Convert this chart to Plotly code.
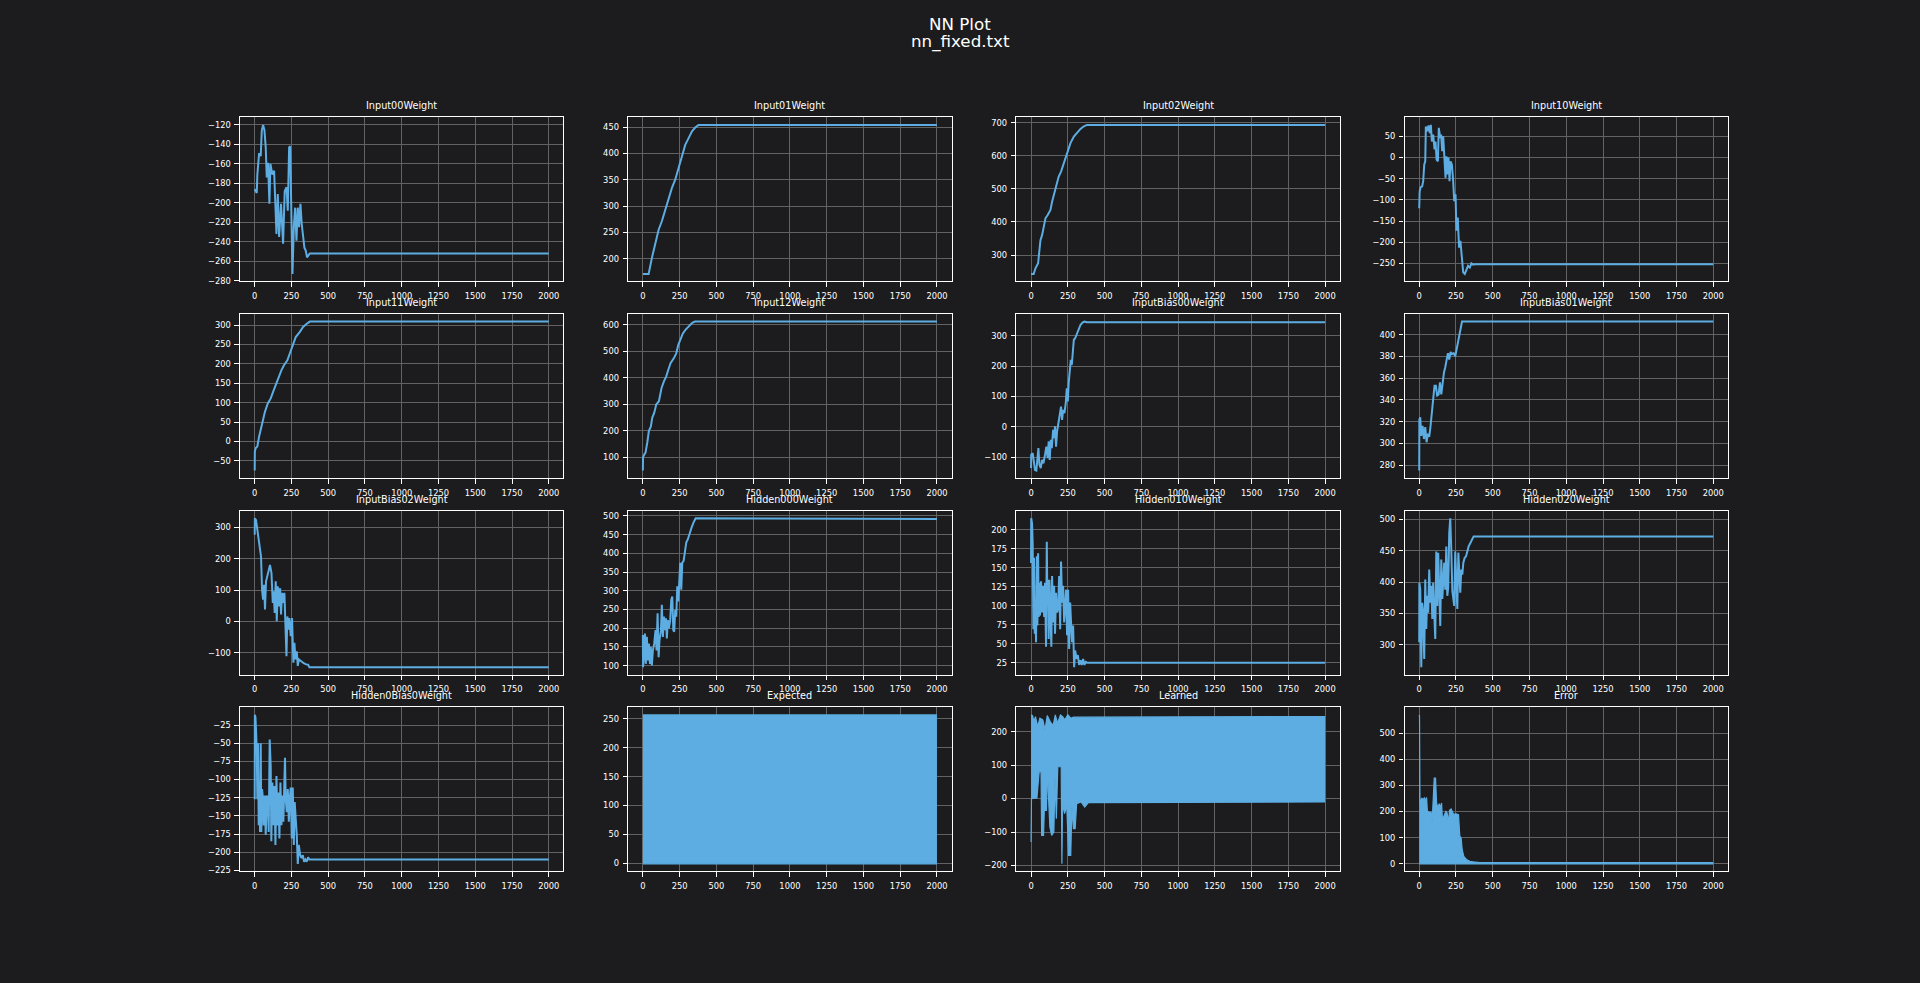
import plotly.graph_objects as go

# ---------------- data ----------------
titles = ["Input00Weight", "Input01Weight", "Input02Weight", "Input10Weight",
          "Input11Weight", "Input12Weight", "InputBias00Weight", "InputBias01Weight",
          "InputBias02Weight", "Hidden000Weight", "Hidden010Weight", "Hidden020Weight",
          "Hidden0Bias0Weight", "Expected", "Learned", "Error"]

x_ticks = [0, 250, 500, 750, 1000, 1250, 1500, 1750, 2000]

input00_x = [0, 14, 18, 30, 41, 48, 57, 66, 75, 82, 91, 100, 107, 120, 132, 138, 148, 157, 166, 179,
             193, 204, 216, 225, 234, 241, 247, 257, 266, 275, 284, 293, 302, 311, 320, 329, 338, 347, 356, 365,
             375, 2000]
input00_y = [-186, -190, -171, -149, -152, -126, -120, -125, -143, -174, -159, -201, -160, -171, -167, -191,
             -232, -191, -235, -201, -242, -188, -184, -208, -143, -142, -201, -273, -225, -205, -239, -205,
             -225, -201, -222, -232, -246, -249, -256, -254, -252, -252]

input01_x = [0, 39, 61, 84, 107, 129, 152, 175, 197, 220, 243, 266, 288, 311, 334, 356, 379, 2000]
input01_y = [171, 171, 201, 227, 255, 271, 293, 315, 334, 350, 372, 394, 416, 429, 442, 449, 454, 454]

input02_x = [0, 18, 30, 48, 57, 64, 75, 86, 98, 113, 132, 143, 159, 173, 188, 204, 218, 234, 250, 268,
             291, 313, 336, 359, 381, 2000]
input02_y = [243, 243, 260, 275, 315, 345, 360, 386, 411, 421, 436, 461, 491, 514, 537, 552, 572, 597, 617,
             638, 658, 670, 681, 689, 693, 693]

input10_x = [0, 3, 10, 20, 27, 34, 41, 45, 54, 63, 72, 79, 86, 95, 104, 111, 118, 127, 133, 143,
             149, 156, 163, 172, 179, 185, 192, 199, 206, 213, 222, 231, 238, 247, 253, 262, 271, 280, 290, 299,
             310, 321, 332, 344, 355, 366, 378, 2000]
input10_y = [-120, -80, -70, -68, -56, -17, -9, 73, 62, 76, 58, 77, 38, 54, 19, 38, -5, -9, 70, 46,
             54, 15, 50, -9, -48, 3, -40, 0, -56, -9, -17, -56, -103, -87, -173, -142, -213, -197, -236, -271,
             -275, -267, -256, -260, -250, -253, -252, -252]

input11_x = [0, 1, 7, 18, 30, 41, 52, 70, 89, 109, 125, 143, 161, 182, 200, 222, 238, 257, 279, 306,
             329, 352, 375, 2000]
input11_y = [-75, -26, -17, -13, 13, 30, 51, 77, 98, 111, 128, 145, 167, 184, 197, 209, 226, 248, 269, 282,
             295, 303, 309, 309]

input12_x = [0, 1, 7, 18, 30, 41, 54, 64, 77, 91, 109, 118, 127, 143, 159, 173, 188, 211, 227, 241,
             257, 272, 291, 313, 336, 354, 2000]
input12_y = [49, 99, 107, 117, 155, 199, 215, 249, 267, 299, 311, 342, 361, 386, 405, 430, 455, 474, 492, 524,
             549, 567, 582, 595, 607, 612, 612]

inputbias00_x = [0, 1, 11, 18, 27, 36, 43, 50, 57, 66, 75, 84, 95, 104, 113, 120, 127, 134, 141, 150,
                 157, 163, 170, 177, 186, 195, 204, 211, 218, 227, 236, 243, 250, 256, 263, 270, 277, 284, 291, 300,
                 309, 318, 327, 336, 350, 363, 379, 2000]
inputbias00_y = [-136, -92, -87, -120, -142, -144, -103, -70, -125, -136, -109, -120, -92, -65, -103, -48,
                 -109, -43, -70, -10, -37, 2, -65, -15, 12, 34, 67, 23, 56, 45, 78, 127, 84, 144, 188, 221,
                 204, 265, 287, 292, 303, 314, 325, 336, 344, 347, 345, 345]

inputbias01_x = [0, 1, 7, 14, 23, 32, 41, 50, 59, 68, 77, 86, 95, 104, 113, 122, 132, 141, 150, 159,
                 168, 177, 186, 195, 204, 213, 222, 234, 245, 257, 268, 279, 291, 2000]
inputbias01_y = [275, 322, 324, 307, 316, 304, 315, 301, 309, 306, 316, 328, 344, 353, 353, 344, 345, 356,
                 345, 356, 365, 370, 377, 383, 377, 384, 382, 383, 380, 389, 397, 402, 412, 412]

inputbias02_x = [0, 1, 9, 16, 23, 30, 36, 43, 50, 57, 64, 70, 77, 86, 95, 104, 114, 123, 129, 136,
                 143, 150, 157, 166, 173, 179, 186, 195, 202, 209, 216, 222, 229, 236, 245, 254, 263, 270, 277,
                 286, 293, 300, 311, 322, 336, 350, 363, 372, 2000]
inputbias02_y = [276, 329, 323, 297, 265, 251, 223, 207, 101, 69, 117, 38, 128, 149, 170, 180, 154, 59, 96,
                 27, 128, 1, 112, 48, 106, 22, 91, 59, 91, 16, -111, 16, -26, 11, -47, 11, -132, -68, -121,
                 -95, -142, -121, -126, -130, -134, -137, -138, -146, -146]

hidden000_x = [0, 1, 5, 14, 20, 27, 34, 41, 48, 54, 61, 68, 77, 86, 93, 100, 107, 113, 123, 129,
               136, 143, 150, 157, 163, 170, 177, 186, 193, 200, 207, 213, 220, 227, 234, 241, 247, 254, 261,
               268, 277, 286, 295, 306, 318, 331, 345, 359, 2000]
hidden000_y = [182, 96, 114, 186, 105, 177, 114, 159, 105, 150, 101, 141, 159, 195, 141, 240, 123, 168, 195,
               263, 177, 231, 195, 227, 173, 222, 200, 222, 276, 285, 195, 191, 249, 231, 312, 272, 308, 375,
               303, 375, 380, 406, 429, 438, 456, 469, 483, 494, 492]

hidden010_x = [0, 1, 7, 11, 16, 20, 25, 30, 34, 39, 43, 48, 52, 57, 61, 68, 75, 82, 89, 95,
               102, 107, 111, 116, 120, 125, 132, 138, 143, 150, 157, 163, 170, 177, 184, 191, 198, 204, 211,
               218, 225, 232, 238, 245, 252, 259, 266, 272, 279, 286, 293, 300, 309, 318, 327, 336, 345, 354,
               363, 372, 381, 2000]
hidden010_y = [156, 215, 208, 182, 69, 163, 63, 87, 52, 165, 74, 169, 85, 130, 87, 132, 91, 126, 85, 130,
               46, 184, 104, 134, 56, 134, 91, 46, 139, 78, 126, 63, 117, 91, 95, 139, 69, 158, 104, 126,
               78, 104, 121, 61, 121, 43, 104, 78, 52, 74, 19, 41, 30, 35, 22, 28, 22, 30, 22, 26, 25, 25]

hidden020_x = [0, 1, 7, 14, 20, 27, 34, 41, 48, 54, 61, 68, 75, 82, 89, 95, 102, 109, 116, 123,
               129, 136, 143, 150, 157, 163, 170, 177, 184, 191, 197, 204, 211, 218, 225, 232, 238, 245, 252,
               259, 266, 272, 279, 286, 293, 300, 309, 318, 327, 336, 347, 359, 370, 2000]
hidden020_y = [304, 399, 388, 264, 367, 351, 277, 404, 325, 378, 351, 420, 367, 394, 341, 399, 351, 309, 449,
               362, 447, 394, 330, 436, 373, 399, 431, 388, 457, 378, 391, 478, 502, 452, 386, 373, 362, 449,
               404, 357, 447, 420, 383, 420, 412, 431, 439, 441, 452, 457, 462, 467, 473, 473]

hidden0bias0_x = [0, 1, 5, 9, 14, 18, 23, 27, 32, 36, 41, 45, 50, 54, 61, 68, 75, 82, 89, 95,
                  102, 109, 113, 120, 127, 134, 141, 148, 154, 161, 168, 175, 182, 188, 195, 202, 206, 211, 218,
                  225, 232, 238, 245, 252, 259, 266, 272, 279, 286, 293, 300, 309, 318, 327, 336, 345, 354, 363,
                  372, 2000]
hidden0bias0_y = [-127, -11, -14, -32, -59, -127, -50, -163, -104, -172, -50, -172, -113, -122, -163, -122,
                  -176, -122, -127, -172, -45, -82, -185, -104, -163, -109, -190, -95, -163, -118, -181, -104,
                  -163, -122, -158, -86, -70, -127, -145, -113, -158, -127, -111, -181, -111, -190, -131, -154,
                  -176, -216, -190, -204, -208, -204, -213, -210, -213, -207, -210, -210]

# dense oscillating series, given by their upper / lower envelopes
expected_x = [0, 2000]
expected_lo = [-1, -1]
expected_hi = [257, 257]

learned_hi_x = [0, 10, 20, 30, 45, 60, 80, 95, 110, 130, 150, 165, 180, 200, 215, 230, 250, 270, 290, 320,
                360, 2000]
learned_hi = [250, 248, 230, 245, 215, 240, 235, 205, 248, 230, 218, 250, 225, 250, 245, 235, 250, 240, 243,
              243, 245, 245]
learned_lo_x = [0, 3, 40, 55, 68, 72, 85, 90, 105, 112, 117, 128, 140, 155, 163, 172, 182, 205, 210, 214,
                228, 243, 255, 270, 278, 288, 300, 310, 340, 365, 390, 2000]
learned_lo = [-130, 0, 2, 80, 80, -110, -110, -35, -35, 130, 20, -85, -110, -100, 65, -60, 95, 95, -195, -15,
              -45, -20, -170, -170, -20, -90, -90, -15, -10, -25, -12, -10]

error_hi_x = [0, 2, 5, 11, 18, 27, 36, 43, 50, 57, 63, 72, 81, 88, 95, 102, 111, 118, 127, 136,
              143, 152, 158, 165, 172, 181, 190, 199, 206, 217, 226, 235, 247, 258, 267, 276, 285, 292, 303,
              321, 344, 366, 412, 2000]
error_hi = [570, 565, 233, 245, 252, 245, 254, 233, 254, 188, 201, 195, 197, 163, 233, 328, 328, 233, 214,
            230, 214, 233, 169, 176, 188, 201, 195, 156, 205, 210, 195, 188, 192, 188, 188, 106, 99, 55, 29,
            17, 10, 8, 5, 5]
error_lo_x = [0, 2000]
error_lo = [0, 0]

y_dticks = [20, 50, 100, 50, 50, 100, 100, 20, 100, 50, 25, 50, 25, 50, 100, 100]

# ---------------- style ----------------
BG = "#1c1c1e"
BLUE = "#5dade2"
GRID = "#626262"
FG = "#ffffff"
FONT = "DejaVu Sans"
W, H = 1920, 983

# matplotlib-like subplot geometry
left, right, bottom, top, wsp, hsp = 0.125, 0.9, 0.11, 0.88, 0.2, 0.2
cw = (right - left) / (4 + 3 * wsp)
ch = (top - bottom) / (4 + 3 * hsp)

line_series = [
    (input00_x, input00_y), (input01_x, input01_y), (input02_x, input02_y), (input10_x, input10_y),
    (input11_x, input11_y), (input12_x, input12_y), (inputbias00_x, inputbias00_y),
    (inputbias01_x, inputbias01_y), (inputbias02_x, inputbias02_y), (hidden000_x, hidden000_y),
    (hidden010_x, hidden010_y), (hidden020_x, hidden020_y), (hidden0bias0_x, hidden0bias0_y),
]
band_series = [
    ((expected_x, expected_lo), (expected_x, expected_hi)),
    ((learned_lo_x, learned_lo), (learned_hi_x, learned_hi)),
    ((error_lo_x, error_lo), (error_hi_x, error_hi)),
]

fig = go.Figure()
layout = dict(
    width=W, height=H, margin=dict(l=0, r=0, t=0, b=0),
    paper_bgcolor=BG, plot_bgcolor=BG, showlegend=False,
    font=dict(family=FONT, color=FG),
)
annotations = []

for i in range(16):
    r, c = divmod(i, 4)
    sfx = "" if i == 0 else str(i + 1)
    x0 = left + c * cw * (1 + wsp)
    y1 = top - r * ch * (1 + hsp)
    y0 = y1 - ch
    xa, ya = "x" + sfx, "y" + sfx

    if i < 13:
        xs, ys = line_series[i]
        fig.add_trace(go.Scatter(x=xs, y=ys, mode="lines", xaxis=xa, yaxis=ya,
                                 line=dict(color=BLUE, width=2), hoverinfo="skip"))
        lo_v, hi_v = min(ys), max(ys)
    else:
        (lx, ly), (ux, uy) = band_series[i - 13]
        fig.add_trace(go.Scatter(x=lx, y=ly, mode="lines", xaxis=xa, yaxis=ya,
                                 line=dict(color=BLUE, width=1.2), hoverinfo="skip"))
        fig.add_trace(go.Scatter(x=ux, y=uy, mode="lines", xaxis=xa, yaxis=ya, fill="tonexty",
                                 fillcolor=BLUE, line=dict(color=BLUE, width=1.2), hoverinfo="skip"))
        lo_v, hi_v = min(ly), max(uy)
    pad = 0.05 * (hi_v - lo_v)

    common = dict(
        showline=True, mirror=True, linecolor=FG, linewidth=1.1,
        showgrid=True, gridcolor=GRID, gridwidth=1, zeroline=False,
        ticks="outside", ticklen=4.5, tickwidth=1, tickcolor=FG,
        tickfont=dict(family=FONT, size=8.3, color=FG), tickformat="d",
        ticklabelstandoff=2,
    )
    layout["xaxis" + sfx] = dict(common, domain=[x0, x0 + cw], anchor=ya,
                                 range=[-100, 2100], tickmode="array", tickvals=x_ticks)
    layout["yaxis" + sfx] = dict(common, domain=[y0, y1], anchor=xa,
                                 range=[lo_v - pad, hi_v + pad], tick0=0, dtick=y_dticks[i])
    annotations.append(dict(text=titles[i], x=x0 + cw / 2, y=y1, xref="paper", yref="paper",
                            xanchor="center", yanchor="bottom", yshift=4, showarrow=False,
                            font=dict(family=FONT, size=9.7, color=FG)))

annotations.append(dict(text="NN Plot", x=0.5, y=1 - 36 / H, xref="paper", yref="paper",
                        xanchor="center", yanchor="bottom", showarrow=False,
                        font=dict(family=FONT, size=16.7, color=FG)))
annotations.append(dict(text="nn_fixed.txt", x=0.5, y=1 - 54 / H, xref="paper", yref="paper",
                        xanchor="center", yanchor="bottom", showarrow=False,
                        font=dict(family=FONT, size=16.7, color=FG)))
layout["annotations"] = annotations

fig.update_layout(**layout)
fig.write_html("out.html")
